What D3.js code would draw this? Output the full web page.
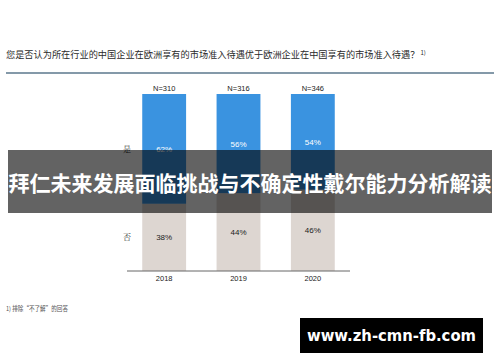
<!DOCTYPE html>
<html>
<head>
<meta charset="utf-8">
<script src="https://cdn.jsdelivr.net/npm/d3@7"></script>
<style>
  html, body { margin: 0; padding: 0; background: #fff; }
  svg { display: block; font-family: "Noto Sans CJK SC", "Liberation Sans", sans-serif; }
</style>
</head>
<body>
<div id="chart"></div>
<script>
// données du graphique
const years = ["2018", "2019", "2020"];
const sampleSizes = ["N=310", "N=316", "N=346"];
const yesValues = [62, 56, 54];
const noValues = [38, 44, 46];
const rowLabels = ["是", "否"];

const titleText = "您是否认为所在行业的中国企业在欧洲享有的市场准入待遇优于欧洲企业在中国享有的市场准入待遇？";
const footnoteText = "1) 排除“不了解”的回答";
const bannerText = "拜仁未来发展面临挑战与不确定性戴尔能力分析解读";
const watermarkText = "www.zh-cmn-fb.com";

const COLOR_YES = "#3a93e0",
    COLOR_NO = "#ddd6d1";

const width = 500, height = 362;

const svg = d3.select("#chart")
    .append("svg")
    .attr("width", width)
    .attr("height", height);

// titre + filet
const title = svg.append("text")
    .attr("x", 6)
    .attr("y", 58)
    .style("font-size", "9.2px")
    .attr("fill", "#2a2a2a");
title.append("tspan").text(titleText);
title.append("tspan").attr("dx", 1).attr("dy", -3).style("font-size", "6px").text("1)");

svg.append("line")
    .attr("x1", 6).attr("x2", 494)
    .attr("y1", 73).attr("y2", 73)
    .attr("stroke", "#8499a9")
    .attr("stroke-width", 2);

// échelles
const x = d3.scaleBand()
    .domain(years)
    .range([127, 350])
    .paddingInner(0.41)
    .paddingOuter(0.205);

const y = d3.scaleLinear()
    .domain([0, 100])
    .range([271, 94]);

const data = years.map((yr, i) => ({year: yr, n: sampleSizes[i], yes: yesValues[i], no: noValues[i]}));

const g = svg.append("g");

// segments "non" en bas
g.selectAll(".bar-no")
    .data(data)
    .enter()
    .append("rect")
    .attr("class", "bar-no")
    .attr("x", d => x(d.year))
    .attr("width", x.bandwidth())
    .attr("y", d => y(d.no))
    .attr("height", d => y(0) - y(d.no))
    .attr("fill", COLOR_NO);

// segments "oui" au-dessus
g.selectAll(".bar-yes")
    .data(data)
    .enter()
    .append("rect")
    .attr("class", "bar-yes")
    .attr("x", d => x(d.year))
    .attr("width", x.bandwidth())
    .attr("y", d => y(d.no + d.yes))
    .attr("height", d => y(d.no) - y(d.no + d.yes))
    .attr("fill", COLOR_YES);

// valeurs
g.selectAll(".lbl-yes")
    .data(data)
    .enter()
    .append("text")
    .attr("x", d => x(d.year) + x.bandwidth() / 2)
    .attr("y", d => (y(d.no + d.yes) + y(d.no)) / 2 + 3)
    .attr("text-anchor", "middle")
    .style("font-size", "8px")
    .style("font-family", "Liberation Sans, Arial, sans-serif")
    .attr("fill", "#fff")
    .text(d => d.yes + "%");

g.selectAll(".lbl-no")
    .data(data)
    .enter()
    .append("text")
    .attr("x", d => x(d.year) + x.bandwidth() / 2)
    .attr("y", d => (y(d.no) + y(0)) / 2 + 3)
    .attr("text-anchor", "middle")
    .style("font-size", "8px")
    .style("font-family", "Liberation Sans, Arial, sans-serif")
    .attr("fill", "#222")
    .text(d => d.no + "%");

g.selectAll(".lbl-n")
    .data(data)
    .enter()
    .append("text")
    .attr("x", d => x(d.year) + x.bandwidth() / 2)
    .attr("y", 90.5)
    .attr("text-anchor", "middle")
    .style("font-size", "7.5px")
    .style("font-family", "Liberation Sans, Arial, sans-serif")
    .attr("fill", "#222")
    .text(d => d.n);

// étiquettes des lignes (oui / non) à partir du premier bâton
const first = data[0];
const rowY = [
    (y(first.no + first.yes) + y(first.no)) / 2,
    (y(first.no) + y(0)) / 2
];
g.selectAll(".row-lbl")
    .data(rowLabels)
    .enter()
    .append("text")
    .attr("x", 127)
    .attr("y", (d, i) => rowY[i] + 3)
    .attr("text-anchor", "middle")
    .style("font-size", "8px")
    .style("font-family", "Noto Serif CJK SC, Noto Sans CJK SC, serif")
    .attr("fill", "#333")
    .text(d => d);

// axe des x
const xAxis = svg.append("g")
    .attr("transform", `translate(0,${y(0)})`)
    .call(d3.axisBottom(x).tickSize(0).tickPadding(5));
xAxis.select(".domain")
    .attr("d", `M127,0H350`)
    .attr("stroke", "#666")
    .attr("stroke-width", 1);
xAxis.selectAll("text")
    .style("font-size", "7.5px")
    .style("font-family", "Liberation Sans, Arial, sans-serif")
    .attr("fill", "#222");

// note de bas de page
svg.append("text")
    .attr("x", 6)
    .attr("y", 311)
    .attr("textLength", 62)
    .attr("lengthAdjust", "spacingAndGlyphs")
    .style("font-size", "6.3px")
    .attr("fill", "#555")
    .text(footnoteText);

// bandeau sombre
svg.append("rect")
    .attr("x", 8).attr("y", 150)
    .attr("width", 484).attr("height", 63)
    .attr("fill", "rgba(0,0,0,0.61)");

svg.append("text")
    .attr("x", 250)
    .attr("y", 190.5)
    .attr("text-anchor", "middle")
    .attr("textLength", 483)
    .attr("lengthAdjust", "spacingAndGlyphs")
    .style("font-size", "21px")
    .style("font-weight", "bold")
    .attr("fill", "#fff")
    .text(bannerText);

// filigrane
svg.append("rect")
    .attr("x", 300).attr("y", 318)
    .attr("width", 183).attr("height", 35)
    .attr("fill", "#000");

svg.append("text")
    .attr("x", 391.5)
    .attr("y", 341)
    .attr("text-anchor", "middle")
    .attr("textLength", 169)
    .attr("lengthAdjust", "spacingAndGlyphs")
    .style("font-size", "16px")
    .style("font-weight", "bold")
    .style("font-family", "DejaVu Sans, sans-serif")
    .attr("fill", "#fff")
    .text(watermarkText);
</script>
</body>
</html>
